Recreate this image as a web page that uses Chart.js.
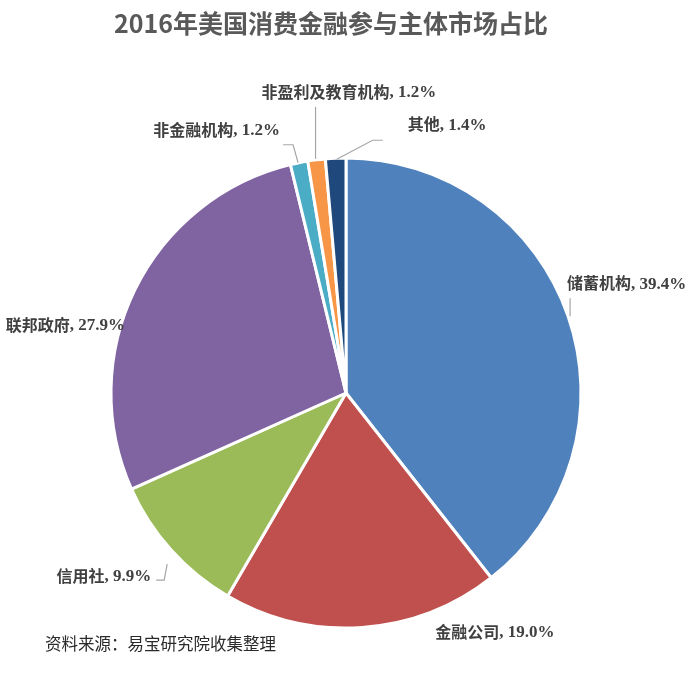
<!DOCTYPE html>
<html>
<head>
<meta charset="utf-8">
<script src="https://cdn.jsdelivr.net/npm/chart.js@4/dist/chart.umd.min.js"></script>
<style>
html,body{margin:0;padding:0;background:#ffffff;}
canvas{display:block;}
</style>
</head>
<body>
<canvas id="c" width="692" height="674"></canvas>
<script>
// ---- data ----
const categories = ['储蓄机构', '金融公司', '信用社', '联邦政府', '非金融机构', '非盈利及教育机构', '其他'];
const shares = [39.4, 19.0, 9.9, 27.9, 1.2, 1.2, 1.4];
const titleText = '2016年美国消费金融参与主体市场占比';
const sourceText = '资料来源：易宝研究院收集整理';

// ---- styles ----
const colors = ['#4f81bd', '#c0504d', '#9bbb59', '#8064a2', '#4bacc6', '#f79646', '#1f497d'];
// label placement relative to each slice's outer mid-point: [dx, dy, align, leader points]
const labelLayout = [
  {dx: -1, dy: -33, align: 'left', leader: [[2, 0], [2, -18]]},
  {dx: 73, dy: 4, align: 'left', leader: null},
  {dx: -20, dy: 26, align: 'right', leader: [[-4, 14], [-7, 30], [-15, 30]]},
  {dx: -10, dy: 35, align: 'right', leader: null},
  {dx: -19, dy: -33, align: 'right', leader: [[-1, 0], [-6, -18], [-16, -18]]},
  {dx: -55, dy: -68, align: 'left', leader: [[-1, -1], [-1, -53]]},
  {dx: 72, dy: -34, align: 'left', leader: [[1, 1], [37, -18], [47, -18]]}
];
const cjkFont = 'bold 16px "Noto Sans CJK SC", sans-serif';
const numFont = 'bold 17px "Liberation Serif", serif';
const textColor = '#404040';

const labelPlugin = {
  id: 'customLabels',
  afterDraw(chart) {
    const ctx = chart.ctx;
    ctx.save();
    // title
    ctx.font = 'bold 25px "Noto Sans CJK SC", sans-serif';
    ctx.fillStyle = '#595959';
    ctx.textAlign = 'center';
    ctx.textBaseline = 'middle';
    ctx.fillText(titleText, 331, 23);

    const meta = chart.getDatasetMeta(0);
    meta.data.forEach((arc, i) => {
      const p = arc.getProps(['x', 'y', 'startAngle', 'endAngle', 'outerRadius'], true);
      const mid = (p.startAngle + p.endAngle) / 2;
      const ax = p.x + Math.cos(mid) * p.outerRadius;
      const ay = p.y + Math.sin(mid) * p.outerRadius;
      const L = labelLayout[i];
      if (L.leader) {
        ctx.strokeStyle = '#a6a6a6';
        ctx.lineWidth = 1.2;
        ctx.beginPath();
        L.leader.forEach((pt, k) => {
          if (k === 0) ctx.moveTo(ax + pt[0], ay + pt[1]);
          else ctx.lineTo(ax + pt[0], ay + pt[1]);
        });
        ctx.stroke();
      }
      const part1 = categories[i];
      const part2 = ', ' + shares[i].toFixed(1) + '%';
      ctx.font = cjkFont;
      const w1 = ctx.measureText(part1).width;
      ctx.font = numFont;
      const w2 = ctx.measureText(part2).width;
      let x = ax + L.dx;
      if (L.align === 'right') x -= (w1 + w2);
      const y = ay + L.dy;
      ctx.textAlign = 'left';
      ctx.textBaseline = 'middle';
      ctx.fillStyle = textColor;
      ctx.font = cjkFont;
      ctx.fillText(part1, x, y);
      ctx.font = numFont;
      ctx.fillText(part2, x + w1, y + 1);
    });

    // source
    ctx.font = '16.5px "Noto Sans CJK SC", sans-serif';
    ctx.fillStyle = '#2a2a2a';
    ctx.textAlign = 'left';
    ctx.textBaseline = 'middle';
    ctx.fillText(sourceText, 45, 644);
    ctx.restore();
  }
};

new Chart(document.getElementById('c'), {
  type: 'pie',
  data: {
    labels: categories,
    datasets: [{
      data: shares,
      backgroundColor: colors,
      borderColor: '#ffffff',
      borderWidth: 3,
      hoverOffset: 0
    }]
  },
  options: {
    responsive: false,
    animation: false,
    radius: 235,
    layout: {padding: {top: 112, bottom: 0, left: 0, right: 0}},
    plugins: {
      legend: {display: false},
      title: {display: false},
      tooltip: {enabled: false}
    }
  },
  plugins: [labelPlugin]
});
</script>
</body>
</html>
